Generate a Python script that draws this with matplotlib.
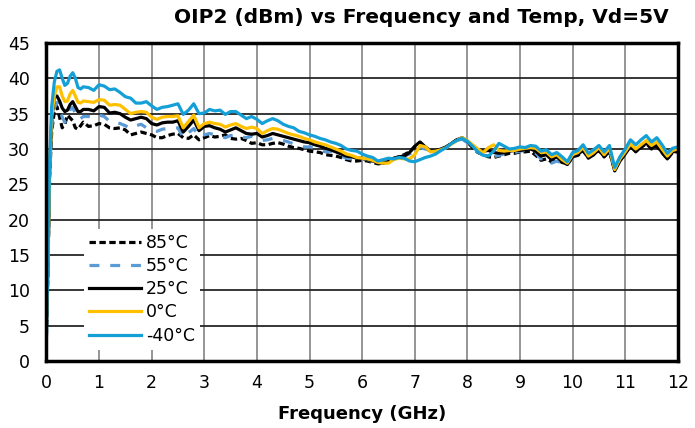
import matplotlib
matplotlib.use("Agg")
import matplotlib.pyplot as plt

freq = [0, 0.03, 0.06, 0.1, 0.15, 0.2, 0.25, 0.3, 0.35, 0.4, 0.45, 0.5, 0.55, 0.6, 0.65,
        0.7, 0.8, 0.9, 1.0, 1.1, 1.2, 1.3, 1.4, 1.5, 1.6, 1.7, 1.8, 1.9,
        2.0, 2.1, 2.2, 2.3, 2.4, 2.5, 2.6, 2.7, 2.8, 2.9,
        3.0, 3.1, 3.2, 3.3, 3.4, 3.5, 3.6, 3.7, 3.8, 3.9,
        4.0, 4.1, 4.2, 4.3, 4.4, 4.5, 4.6, 4.7, 4.8, 4.9,
        5.0, 5.1, 5.2, 5.3, 5.4, 5.5, 5.6, 5.7, 5.8, 5.9,
        6.0, 6.1, 6.2, 6.3, 6.4, 6.5, 6.6, 6.7, 6.8, 6.9,
        7.0, 7.1, 7.2, 7.3, 7.4, 7.5, 7.6, 7.7, 7.8, 7.9,
        8.0, 8.1, 8.2, 8.3, 8.4, 8.5, 8.6, 8.7, 8.8, 8.9,
        9.0, 9.1, 9.2, 9.3, 9.4, 9.5, 9.6, 9.7, 9.8, 9.9,
        10.0, 10.1, 10.2, 10.3, 10.4, 10.5, 10.6, 10.7, 10.8, 10.9,
        11.0, 11.1, 11.2, 11.3, 11.4, 11.5, 11.6, 11.7, 11.8, 11.9, 12.0]

oip2_85 = [3.5, 13, 26, 32.5, 35.3, 36.0, 34.5, 33.0, 33.5, 34.8, 34.4, 34.0, 33.0, 32.8, 33.3,
           33.8, 33.2, 33.3, 33.6, 33.5, 33.0, 32.9, 33.0, 32.7, 32.0, 32.2, 32.4, 32.2,
           32.0, 31.6, 31.6, 31.9, 32.1, 32.2, 31.6, 31.5, 32.0, 31.3,
           31.6, 31.9, 31.7, 31.8, 32.0, 31.5, 31.4, 31.5, 31.2, 30.8,
           30.9, 30.6, 30.6, 30.8, 30.9, 30.7, 30.4, 30.2, 30.1, 29.9,
           29.7, 29.6, 29.5, 29.2, 29.1, 29.0, 28.8, 28.5, 28.3, 28.3,
           28.4, 28.3, 28.1, 27.9, 28.0, 28.3, 28.6, 28.9, 29.2, 29.6,
           30.3, 30.9, 30.2, 29.7, 29.7, 29.9, 30.3, 30.8, 31.3, 31.5,
           31.0, 30.2, 29.5, 29.2, 28.9, 28.8, 29.0, 29.2, 29.4, 29.4,
           29.6, 29.6, 29.7, 29.1, 28.4, 28.6, 28.2, 28.5, 28.1, 27.9,
           28.9, 29.1, 29.7, 28.8, 29.2, 29.8, 28.9, 29.7, 27.0, 28.4,
           29.4, 30.4, 29.7, 30.2, 30.8, 30.0, 30.4, 29.5, 28.6, 29.5, 29.6]

oip2_55 = [3.3, 13, 26, 33.0, 35.8, 36.6, 35.8, 34.5, 33.8, 34.5, 35.6, 35.9, 35.0, 34.2, 34.3,
           34.6, 34.6, 34.4, 34.8, 34.6, 33.9, 33.8, 33.6, 33.3, 32.9, 33.3, 33.5, 33.0,
           32.6, 32.5, 32.8, 32.9, 32.9, 33.0, 31.6, 32.3, 32.9, 31.7,
           32.0, 32.2, 32.0, 31.8, 31.6, 31.9, 32.0, 31.7, 31.6, 31.8,
           31.5, 31.2, 31.3, 31.5, 31.3, 31.2, 31.0, 30.7, 30.5, 30.3,
           30.3, 30.2, 29.9, 29.6, 29.7, 29.4, 29.0, 28.7, 28.6, 28.7,
           28.6, 28.5, 28.2, 27.9, 28.0, 28.3, 28.6, 28.9, 29.0, 29.3,
           29.6, 30.2, 30.0, 29.8, 29.8, 30.0, 30.3, 30.8, 31.2, 31.4,
           30.9, 30.2, 29.6, 29.2, 29.0, 28.9, 29.1, 29.3, 29.3, 29.5,
           29.7, 29.8, 29.8, 29.4, 28.6, 28.8, 28.0, 28.3, 28.0, 27.7,
           28.8, 29.2, 29.9, 28.9, 29.4, 30.0, 29.0, 29.9, 27.3, 28.6,
           29.5, 30.5, 29.8, 30.4, 31.0, 30.2, 30.7, 29.8, 28.9, 29.6, 29.7]

oip2_25 = [4.5, 14, 27, 34.0, 37.5, 37.5, 36.8, 35.8, 35.3, 35.5, 36.3, 36.7, 36.0, 35.3, 35.3,
           35.6, 35.6, 35.4, 36.0, 35.9, 35.1, 35.2, 35.0, 34.5, 34.1, 34.3, 34.5, 34.3,
           33.6, 33.4, 33.7, 33.8, 33.8, 34.0, 32.4, 33.2, 34.1, 32.6,
           33.2, 33.3, 33.0, 32.8, 32.4, 32.7, 33.0, 32.6, 32.2, 32.1,
           32.2, 31.7, 31.9, 32.2, 32.0, 31.8, 31.6, 31.4, 31.2, 31.0,
           30.9, 30.6, 30.4, 30.1, 29.9, 29.6, 29.3, 29.0, 28.9, 28.7,
           28.7, 28.5, 28.3, 28.1, 28.0, 28.2, 28.7, 28.9, 29.0, 29.5,
           30.4, 31.0, 30.3, 29.7, 29.8, 30.0, 30.3, 30.8, 31.3, 31.6,
           31.1, 30.3, 29.8, 29.7, 29.8, 29.5, 29.4, 29.5, 29.7, 29.8,
           29.8, 29.9, 30.0, 29.7, 29.0, 29.2, 28.5, 28.9, 28.2, 27.8,
           28.9, 29.2, 29.9, 28.7, 29.2, 29.9, 28.9, 29.8, 26.9, 28.3,
           29.3, 30.4, 29.6, 30.3, 30.9, 30.1, 30.6, 29.5, 28.6, 29.6, 29.7]

oip2_0 = [5.0, 14, 27, 34.5, 37.5, 38.8, 38.8, 37.5, 36.7, 36.8, 37.8, 38.3, 37.5, 36.6, 36.5,
          36.8, 36.7, 36.6, 37.0, 36.9, 36.2, 36.3, 36.2, 35.6, 35.0, 35.2, 35.3, 35.2,
          34.5, 34.2, 34.5, 34.6, 34.6, 34.7, 33.0, 33.9, 34.8, 33.0,
          33.6, 33.8, 33.6, 33.5, 33.1, 33.4, 33.6, 33.2, 32.9, 33.1,
          32.9, 32.2, 32.6, 32.9, 32.8, 32.5, 32.2, 32.0, 31.8, 31.5,
          31.3, 31.0, 30.8, 30.6, 30.3, 30.0, 29.7, 29.3, 29.1, 28.8,
          28.7, 28.6, 28.4, 28.1, 28.0, 28.0, 28.5, 28.7, 28.6, 28.6,
          29.2, 30.5, 30.3, 29.6, 29.7, 29.9, 30.2, 30.7, 31.2, 31.6,
          31.2, 30.6, 30.0, 29.5, 30.2, 30.6, 29.8, 29.7, 29.8, 29.8,
          30.0, 30.1, 30.2, 30.1, 29.5, 29.6, 28.9, 29.2, 28.5, 28.0,
          29.2, 29.5, 30.2, 29.0, 29.5, 30.2, 29.2, 30.1, 27.1, 28.6,
          29.6, 30.7, 30.0, 30.6, 31.2, 30.5, 31.0, 30.0, 29.0, 29.8, 30.0]

oip2_m40 = [4.0, 15, 28, 36.0, 39.5, 41.0, 41.2, 40.0, 39.0, 39.3, 40.3, 40.8, 40.0, 38.7, 38.5,
            38.8, 38.7, 38.3, 39.1, 38.9, 38.4, 38.5, 38.0, 37.4, 37.2, 36.5, 36.5, 36.7,
            36.1, 35.6, 35.9, 36.0, 36.2, 36.4, 34.9, 35.5, 36.4, 35.0,
            35.1, 35.6, 35.4, 35.5, 34.9, 35.3, 35.3, 34.8, 34.3, 34.6,
            34.2, 33.6, 34.0, 34.3, 34.0, 33.5, 33.2, 33.0, 32.5, 32.3,
            32.0, 31.8, 31.5, 31.3, 31.0, 30.8, 30.5, 30.0, 29.8, 29.7,
            29.3, 29.0, 28.8, 28.3, 28.5, 28.7, 28.6, 28.8, 28.7, 28.3,
            28.2, 28.5, 28.8, 29.0, 29.3, 29.8, 30.2, 30.8, 31.2, 31.5,
            31.1, 30.4, 29.6, 29.1, 29.0, 29.7, 30.8, 30.4, 30.0, 30.1,
            30.3, 30.2, 30.5, 30.4, 29.7, 29.9, 29.2, 29.5, 28.9, 28.2,
            29.5, 29.8, 30.6, 29.4, 29.9, 30.5, 29.6, 30.5, 27.4, 28.9,
            30.0, 31.3, 30.6, 31.3, 31.9, 31.0, 31.6, 30.6, 29.4, 30.1, 30.3]

labels = ["85°C", "55°C", "25°C", "0°C", "-40°C"]
title = "OIP2 (dBm) vs Frequency and Temp, Vd=5V"
xlabel = "Frequency (GHz)"
xticks = list(range(0, 13))
yticks = list(range(0, 46, 5))

fig = plt.figure(figsize=(6.95, 4.28), dpi=100)
ax = fig.add_axes([0.0668, 0.1565, 0.9085, 0.743])

ax.plot(freq, oip2_85, color="black", lw=2.3, dashes=(2.0, 1.1), label=labels[0])
ax.plot(freq, oip2_55, color="#5B9BD5", lw=2.3, dashes=(3.1, 3.4), label=labels[1])
ax.plot(freq, oip2_25, color="black", lw=2.3, label=labels[2])
ax.plot(freq, oip2_0, color="#FFC000", lw=2.3, label=labels[3])
ax.plot(freq, oip2_m40, color="#14A0D6", lw=2.3, label=labels[4])

ax.set_xlim(0, 12)
ax.set_ylim(0, 45)
ax.set_xticks(xticks)
ax.set_yticks(yticks)
ax.tick_params(axis="both", length=0, labelsize=12.5)
ax.tick_params(axis="y", pad=12)
ax.tick_params(axis="x", pad=9)
ax.xaxis.grid(True, color="#8c8c8c", lw=1.3)
ax.yaxis.grid(True, color="#262626", lw=1.3)
ax.set_axisbelow(True)
for s in ax.spines.values():
    s.set_linewidth(2.5)
    s.set_color("black")

ax.set_xlabel(xlabel, fontsize=13, fontweight="bold", labelpad=10)
fig.text(0.962, 0.958, title, ha="right", va="center", fontsize=14.5, fontweight="bold")

leg = ax.legend(loc="lower left", bbox_to_anchor=(0.045, 0.008), fontsize=12.5,
                handlelength=3.0, handletextpad=0.3, labelspacing=0.3,
                borderpad=0.3, frameon=True, fancybox=False)
leg.get_frame().set_facecolor("white")
leg.get_frame().set_edgecolor("none")
leg.get_frame().set_alpha(1.0)

fig.savefig("out.png", dpi=100)
